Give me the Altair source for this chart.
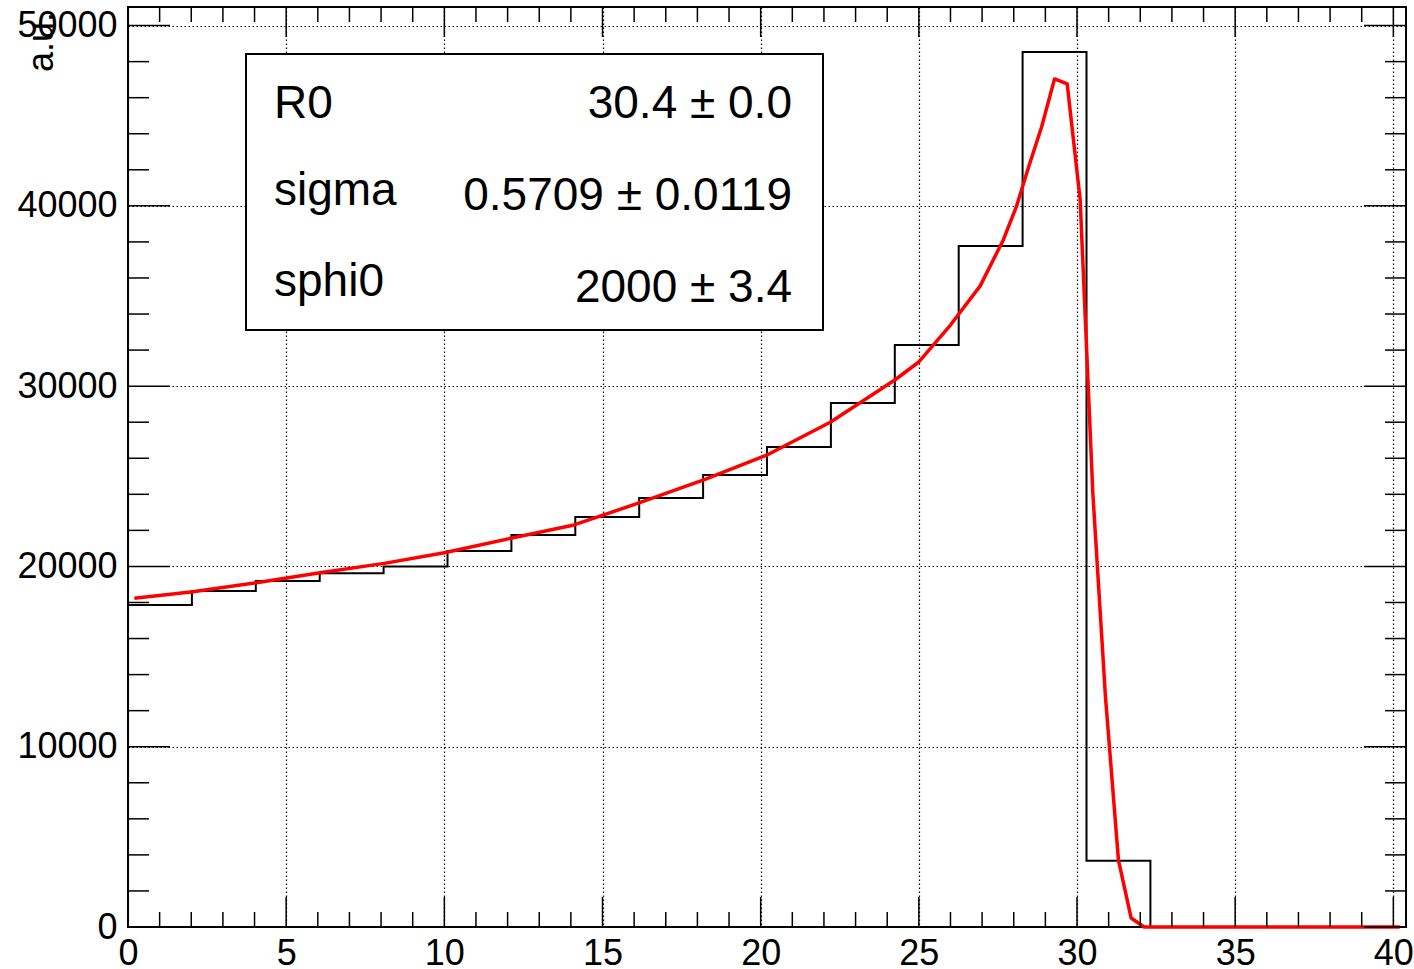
import altair as alt
import pandas as pd

# ---------------- data ----------------
bin_lo = [0.00, 2.02, 4.04, 6.06, 8.08, 10.10, 12.12, 14.14, 16.16, 18.18,
          20.20, 22.22, 24.24, 26.26, 28.28, 30.30, 32.32, 34.34, 36.36, 38.38]
bin_hi_last = 40.40
counts = [17860, 18640, 19190, 19620, 19990, 20860, 21740, 22740, 23800, 25070,
          26630, 29070, 32280, 37780, 48540, 3680, 0, 0, 0, 0]

fit_x = [0.2, 2.05, 4.06, 6.07, 8.1, 10.0, 12.1, 14.1, 16.2, 18.2, 20.2, 22.2,
         24.24, 25.0, 26.0, 26.94, 27.67, 28.08, 28.48, 28.88, 29.29, 29.69,
         30.10, 30.50, 30.90, 31.31, 31.71, 32.12, 40.2]
fit_y = [18230, 18600, 19100, 19650, 20170, 20760, 21560, 22300, 23550, 24800,
         26180, 28000, 30340, 31340, 33390, 35560, 38110, 39940, 42210, 44370,
         47040, 46760, 40330, 24075, 12760, 3716, 500, 0, 0]

x_major = [0, 5, 10, 15, 20, 25, 30, 35, 40]
x_minor = [v for v in range(1, 41) if v % 5 != 0]
y_major = [0, 10000, 20000, 30000, 40000, 50000]
y_minor = [v for v in range(2000, 51000, 2000) if v % 10000 != 0]

par_names = ["R0", "sigma", "sphi0"]
par_values = ["30.4 \u00b1 0.0", "0.5709 \u00b1 0.0119", "2000 \u00b1 3.4"]
y_title = "a.u."

# ---------------- layout ----------------
W, H = 1278, 920
FONT = "Liberation Sans"

xs = alt.Scale(domain=[0, 40.4], nice=False, zero=False)
ys = alt.Scale(domain=[0, 51030], nice=False, zero=False)

grid_style = dict(grid=True, gridDash=[1.5, 2.5], gridColor="black", gridWidth=1.2,
                  gridOpacity=1)

xaxis = alt.Axis(values=x_major, title=None, ticks=False, tickSize=0, domain=False,
                 labelFontSize=36, labelFont=FONT, labelColor="black",
                 labelPadding=37, labelBaseline="alphabetic", labelFlush=False,
                 labelOverlap=False, format="d", **grid_style)
yaxis = alt.Axis(values=y_major, title=None, ticks=False, tickSize=0, domain=False,
                 labelFontSize=36, labelFont=FONT, labelColor="black",
                 labelPadding=11, labelBaseline="middle", labelAlign="right",
                 labelFlush=False, labelOverlap=False, format="d", **grid_style)

hist_df = pd.DataFrame({"x": bin_lo + [bin_hi_last], "y": counts + [counts[-1]]})
fit_df = pd.DataFrame({"x": fit_x, "y": fit_y})

hist = alt.Chart(hist_df).mark_line(interpolate="step-after", color="black",
                                    strokeWidth=2).encode(
    x=alt.X("x:Q", scale=xs, axis=xaxis),
    y=alt.Y("y:Q", scale=ys, axis=yaxis),
)

fit = alt.Chart(fit_df).mark_line(color="#ff0000", strokeWidth=3.5,
                                  strokeJoin="round").encode(
    x=alt.X("x:Q", scale=xs, axis=xaxis),
    y=alt.Y("y:Q", scale=ys, axis=yaxis),
)

def xticks(vals, length):
    df = pd.DataFrame({"x": vals})
    bottom = alt.Chart(df).mark_rule(color="black", strokeWidth=1.5).encode(
        x=alt.X("x:Q", scale=xs, axis=xaxis), y=alt.value(H), y2=alt.value(H - length))
    top = alt.Chart(df).mark_rule(color="black", strokeWidth=1.5).encode(
        x=alt.X("x:Q", scale=xs, axis=xaxis), y=alt.value(0), y2=alt.value(length))
    return [bottom, top]

def yticks(vals, length):
    df = pd.DataFrame({"y": vals})
    left = alt.Chart(df).mark_rule(color="black", strokeWidth=1.5).encode(
        y=alt.Y("y:Q", scale=ys, axis=yaxis), x=alt.value(0), x2=alt.value(length))
    right = alt.Chart(df).mark_rule(color="black", strokeWidth=1.5).encode(
        y=alt.Y("y:Q", scale=ys, axis=yaxis), x=alt.value(W), x2=alt.value(W - length))
    return [left, right]

ticks = xticks(x_major, 30) + xticks(x_minor, 15) + yticks(y_major, 42) + yticks(y_minor, 21)

one = pd.DataFrame({"a": [0]})
box = alt.Chart(one).mark_rect(fill="white", stroke="black", strokeWidth=2).encode(
    x=alt.value(118), x2=alt.value(695), y=alt.value(47), y2=alt.value(323))

texts = []
name_base = [111, 198, 289]
value_base = [111, 203, 295]
for name, val, yn, yv in zip(par_names, par_values, name_base, value_base):
    texts.append(alt.Chart(one).mark_text(align="left", baseline="alphabetic",
                                          fontSize=46, font=FONT, color="black").encode(
        x=alt.value(146), y=alt.value(yn), text=alt.value(name)))
    texts.append(alt.Chart(one).mark_text(align="right", baseline="alphabetic",
                                          fontSize=46, font=FONT, color="black").encode(
        x=alt.value(664), y=alt.value(yv), text=alt.value(val)))

ytitle = alt.Chart(one).mark_text(angle=270, align="right", baseline="alphabetic",
                                  fontSize=36, font=FONT, color="black").encode(
    x=alt.value(-75), y=alt.value(5), text=alt.value(y_title))

chart = alt.layer(hist, fit, *ticks, box, *texts, ytitle).properties(
    width=W, height=H,
    padding={"left": 128, "top": 7, "right": 8, "bottom": 42},
    autosize=alt.AutoSizeParams(type="none"),
    background="white",
).configure_view(stroke="black", strokeWidth=2)

chart.save("out.html", embed_options={"renderer": "svg", "actions": False})
